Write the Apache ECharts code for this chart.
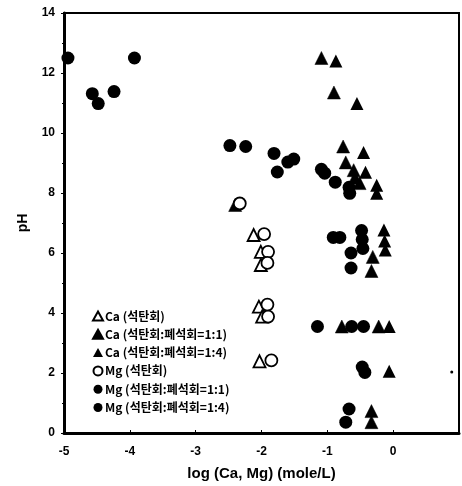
<!DOCTYPE html>
<html><head><meta charset="utf-8">
<script src="https://cdn.jsdelivr.net/npm/echarts@6/dist/echarts.min.js"></script>
<style>html,body{margin:0;padding:0;background:#fff}#c{width:462px;height:486px}</style>
</head><body><div id="c"></div>
<script>
var seriesNames = ['Ca (석탄회)', 'Ca (석탄회:폐석회=1:1)', 'Ca (석탄회:폐석회=1:4)', 'Mg (석탄회)', 'Mg (석탄회:폐석회=1:1)', 'Mg (석탄회:폐석회=1:4)'];
var xTicks = [-5, -4, -3, -2, -1, 0];
var yTicks = [0, 2, 4, 6, 8, 10, 12, 14];
var caAsh = [[-2.12,6.6],[-2.01,6.04],[-2.01,5.6],[-2.04,4.21],[-1.99,3.88],[-2.03,2.39]];
var ca11 = [[-1.09,12.5],[-0.9,11.35],[-0.76,9.55],[-0.72,9.02],[-0.6,8.76],[-0.58,8.52],[-0.51,8.33],[-0.31,5.87],[-0.33,5.4],[-0.78,3.55],[-0.22,3.55],[-0.33,0.73],[-0.33,0.36],[-2.4,7.6]];
var ca14 = [[-0.87,12.4],[-0.55,10.98],[-0.45,9.35],[-0.42,8.69],[-0.25,8.26],[-0.25,7.99],[-0.14,6.77],[-0.13,6.4],[-0.12,6.1],[-0.06,3.55],[-0.06,2.06]];
var mgAsh = [[-1.96,6.63],[-1.9,6.04],[-1.91,5.67],[-1.91,4.28],[-1.9,3.88],[-1.85,2.42],[-2.33,7.65]];
var mg11 = [[-4.94,12.5],[-4.57,11.31],[-4.24,11.38],[-2.48,9.58],[-1.6,9.03],[-0.81,6.52],[-0.63,3.55],[-1.15,3.55],[-0.67,0.8],[-0.72,0.36],[-0.64,6.0]];
var mg14 = [[-4.48,10.98],[-3.93,12.5],[-2.24,9.55],[-1.81,9.32],[-1.76,8.7],[-1.51,9.13],[-1.09,8.79],[-1.04,8.66],[-0.88,8.36],[-0.67,8.19],[-0.66,7.99],[-0.91,6.52],[-0.48,6.75],[-0.47,6.45],[-0.46,6.15],[-0.64,5.5],[-0.45,3.55],[-0.47,2.2],[-0.43,2.02]];
var strayDot = [[0.89,2.03]];

var chart = echarts.init(document.getElementById('c'), null, {renderer:'canvas'});
var open = {color:'#fff', borderColor:'#000', borderWidth:1.8, opacity:1};
var half = {color:'#000', borderColor:'#000', borderWidth:0.5, opacity:1};
var solid = {color:'#000', borderColor:'#000', borderWidth:0, opacity:1};
function sc(name, data, symbol, size, style, z){
  return {name:name, type:'scatter', data:data, symbol:symbol, symbolSize:size, itemStyle:style, z:z||2, emphasis:{disabled:true}};
}
var font = '"Liberation Sans", Arial, sans-serif';
chart.setOption({
  animation:false,
  backgroundColor:'#fff',
  textStyle:{fontFamily:font},
  grid:{left:64, top:13, width:399, height:422, show:true, borderColor:'#000', borderWidth:2, backgroundColor:'transparent'},
  legend:{
    orient:'vertical', left:87, top:305, itemWidth:10, itemHeight:9, itemGap:6.3,
    textStyle:{fontFamily:'"Noto Sans CJK KR", '+font, fontSize:12, fontWeight:'bold', color:'#000', padding:[0,0,0,-3]},
    data:seriesNames
  },
  xAxis:{
    type:'value', min:-5, max:1, interval:1,
    name:'log (Ca, Mg) (mole/L)', nameLocation:'middle', nameGap:33,
    nameTextStyle:{fontSize:15, fontWeight:'bold', color:'#000', fontFamily:font},
    axisLine:{show:true, onZero:false, lineStyle:{color:'#000', width:3}},
    axisTick:{show:true, inside:true, length:3, lineStyle:{color:'#000'}},
    axisLabel:{fontSize:12, fontWeight:'bold', color:'#000', margin:13,
      formatter:function(v){return xTicks.indexOf(v) >= 0 ? String(v) : '';}},
    splitLine:{show:false}
  },
  yAxis:{
    type:'value', min:0, max:14, interval:2,
    name:'pH', nameLocation:'middle', nameGap:34, nameRotate:90,
    nameTextStyle:{fontSize:14, fontWeight:'bold', color:'#000', fontFamily:font},
    axisLine:{show:true, onZero:false, lineStyle:{color:'#000', width:3}},
    axisTick:{show:true, length:3, lineStyle:{color:'#000'}},
    minorTick:{show:true, splitNumber:2, length:2, lineStyle:{color:'#000'}},
    axisLabel:{fontSize:12, fontWeight:'bold', color:'#000', margin:9,
      formatter:function(v){return yTicks.indexOf(v) >= 0 ? String(v) : '';}},
    splitLine:{show:false}
  },
  series:[
    sc(seriesNames[0], caAsh, 'triangle', 12, open, 3),
    sc(seriesNames[1], ca11, 'triangle', 13, half, 3),
    sc(seriesNames[2], ca14, 'triangle', 13, solid, 3),
    sc(seriesNames[3], mgAsh, 'circle', 12, open, 4),
    sc(seriesNames[4], mg11, 'circle', 13, solid, 2),
    sc(seriesNames[5], mg14, 'circle', 13, solid, 2),
    {name:'dot', type:'scatter', data:strayDot, symbol:'circle', symbolSize:3, itemStyle:solid, silent:true}
  ]
});
</script></body></html>
